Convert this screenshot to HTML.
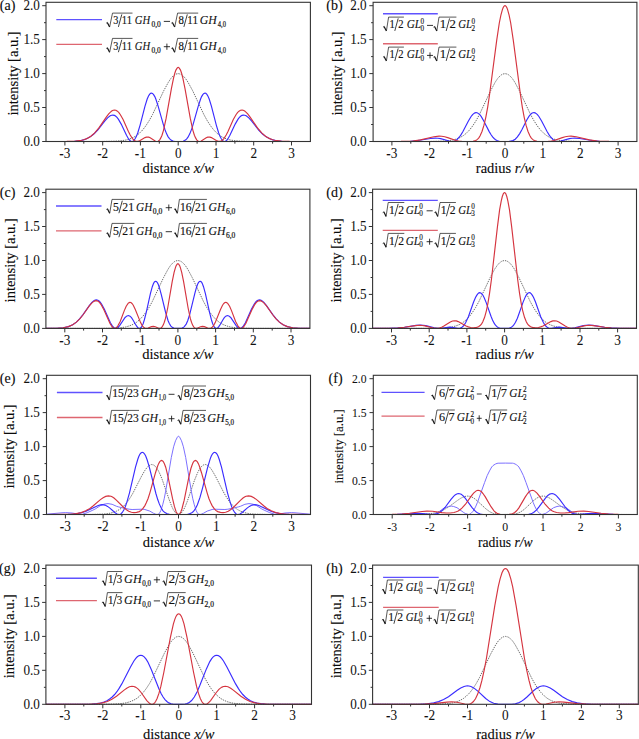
<!DOCTYPE html>
<html><head><meta charset="utf-8"><style>
html,body{margin:0;padding:0;background:#fff;}
svg{display:block;}
.t{font-family:"Liberation Serif",serif;font-size:14px;fill:#0a0a0a;stroke:#0a0a0a;stroke-width:0.12px;}
.tl{font-family:"Liberation Serif",serif;font-size:14px;fill:#111;stroke:#111;stroke-width:0.05px;}
.ln{font-family:"Liberation Serif",serif;font-size:12.5px;fill:#111;stroke:#111;stroke-width:0.15px;}
.li{font-family:"Liberation Serif",serif;font-size:12px;font-style:italic;fill:#111;stroke:#111;stroke-width:0.1px;}
.ls{font-family:"Liberation Serif",serif;font-size:7.2px;fill:#111;stroke:#111;stroke-width:0.12px;}
.lo{font-family:"Liberation Serif",serif;font-size:12px;fill:#111;stroke:#111;stroke-width:0.15px;}
.lsb{font-family:"Liberation Serif",serif;font-size:7.6px;fill:#111;stroke:#111;stroke-width:0.2px;}
</style></head><body>
<svg width="639" height="739" viewBox="0 0 639 739">
<rect width="639" height="739" fill="#fff"/>
<path d="M46.0,141.5 101.5,141.5 115.1,141.2 120.8,140.8 125.7,140.1 129.9,138.9 133.3,137.5 136.7,135.5 139.7,133.0 142.7,129.9 145.7,126.0 149.1,120.8 152.5,114.6 163.8,90.6 168.4,82.2 171.0,78.3 173.3,75.9 174.8,74.7 175.9,74.1 178.2,73.6 180.5,74.1 181.6,74.7 183.1,75.9 185.4,78.3 188.0,82.2 192.6,90.6 203.9,114.6 207.3,120.8 210.7,126.0 213.7,129.9 216.7,133.0 219.7,135.5 223.1,137.5 226.5,138.9 230.7,140.1 235.6,140.8 241.3,141.2 254.9,141.5 310.4,141.5" stroke="#6c6c6c" stroke-width="1" stroke-dasharray="1.4 1.0" fill="none"/>
<path d="M46.0,141.5 65.6,141.5 74.3,141.2 80.7,140.5 83.4,139.9 86.0,139.0 89.8,137.1 93.6,134.3 97.7,130.0 104.9,120.9 107.6,117.9 110.2,115.8 111.7,115.2 112.9,115.1 114.4,115.4 115.5,116.0 117.0,117.4 118.5,119.4 121.2,124.1 126.5,135.3 128.7,139.2 129.9,140.5 131.0,141.3 132.1,141.5 132.9,141.3 134.0,140.4 135.1,138.8 136.3,136.6 137.8,132.7 140.1,125.1 145.0,106.2 147.2,99.0 148.4,96.3 149.5,94.4 150.6,93.3 151.4,93.1 152.5,93.4 153.6,94.6 154.8,96.6 155.9,99.3 158.2,106.3 163.5,125.2 165.0,129.8 166.5,133.6 168.0,136.6 169.5,138.7 171.0,140.1 172.9,141.1 174.4,141.4 176.7,141.5 180.8,141.5 183.1,141.2 184.6,140.6 185.8,139.8 186.9,138.7 188.0,137.2 189.9,133.6 192.2,127.6 198.2,106.3 200.5,99.3 201.6,96.6 202.8,94.6 203.9,93.4 205.0,93.1 205.8,93.3 206.9,94.4 208.0,96.3 209.2,99.0 211.4,106.2 216.3,125.1 218.6,132.7 220.1,136.6 221.3,138.8 222.4,140.4 223.5,141.3 224.3,141.5 225.4,141.3 226.5,140.5 227.7,139.2 229.9,135.3 235.2,124.1 237.9,119.4 239.4,117.4 240.9,116.0 242.0,115.4 243.5,115.1 244.7,115.2 246.2,115.8 248.8,117.9 251.5,120.9 258.7,130.0 262.8,134.3 266.6,137.1 270.4,139.0 273.0,139.9 275.7,140.5 282.1,141.2 290.8,141.5 310.4,141.5" stroke="#3a2cff" stroke-width="1.15" fill="none"/>
<path d="M46.0,141.5 66.8,141.4 75.5,141.1 81.9,140.2 84.5,139.5 87.2,138.4 90.9,136.2 94.7,132.9 98.9,127.9 106.1,117.4 108.7,113.9 110.2,112.3 111.7,111.1 113.2,110.3 114.4,110.1 115.9,110.3 117.4,111.2 118.9,112.6 120.4,114.7 123.1,119.5 128.3,131.2 130.2,135.0 132.5,138.6 134.4,140.5 136.3,141.4 138.2,141.4 140.1,140.6 145.0,137.6 146.5,137.1 147.6,137.0 148.7,137.1 150.2,137.7 155.5,141.2 157.0,141.5 158.2,141.2 159.7,139.8 160.8,137.9 162.0,135.2 163.5,130.3 166.1,118.4 171.4,88.6 173.7,77.5 174.8,73.2 175.9,70.1 177.1,68.1 177.8,67.5 178.2,67.4 178.6,67.5 179.3,68.1 180.5,70.1 181.6,73.2 182.7,77.5 185.0,88.6 190.3,118.4 192.9,130.3 194.4,135.2 195.6,137.9 196.7,139.8 198.2,141.2 199.4,141.5 200.9,141.2 206.2,137.7 207.7,137.1 208.8,137.0 209.9,137.1 211.4,137.6 216.3,140.6 218.2,141.4 220.1,141.4 222.0,140.5 223.9,138.6 226.2,135.0 228.1,131.2 233.3,119.5 236.0,114.7 237.5,112.6 239.0,111.2 240.5,110.3 242.0,110.1 243.2,110.3 244.7,111.1 246.2,112.3 247.7,113.9 250.3,117.4 257.5,127.9 261.7,132.9 265.5,136.2 269.2,138.4 271.9,139.5 274.5,140.2 280.9,141.1 289.6,141.4 310.4,141.5" stroke="#d5343f" stroke-width="1.15" fill="none"/>
<text transform="translate(39.9,146.0) scale(0.94,1)" class="tl" style="font-size:14px" text-anchor="end">0.0</text>
<text transform="translate(39.9,112.0) scale(0.94,1)" class="tl" style="font-size:14px" text-anchor="end">0.5</text>
<text transform="translate(39.9,78.1) scale(0.94,1)" class="tl" style="font-size:14px" text-anchor="end">1.0</text>
<text transform="translate(39.9,44.1) scale(0.94,1)" class="tl" style="font-size:14px" text-anchor="end">1.5</text>
<text transform="translate(39.9,10.2) scale(0.94,1)" class="tl" style="font-size:14px" text-anchor="end">2.0</text>
<text transform="translate(64.9,157.6) scale(0.95,1)" class="tl" style="font-size:14px" text-anchor="middle">-3</text>
<text transform="translate(102.7,157.6) scale(0.95,1)" class="tl" style="font-size:14px" text-anchor="middle">-2</text>
<text transform="translate(140.4,157.6) scale(0.95,1)" class="tl" style="font-size:14px" text-anchor="middle">-1</text>
<text transform="translate(178.2,157.6) scale(0.95,1)" class="tl" style="font-size:14px" text-anchor="middle">0</text>
<text transform="translate(216.0,157.6) scale(0.95,1)" class="tl" style="font-size:14px" text-anchor="middle">1</text>
<text transform="translate(253.7,157.6) scale(0.95,1)" class="tl" style="font-size:14px" text-anchor="middle">2</text>
<text transform="translate(291.5,157.6) scale(0.95,1)" class="tl" style="font-size:14px" text-anchor="middle">3</text>
<path d="M42.2,141.5H46.0M42.2,107.5H46.0M42.2,73.6H46.0M42.2,39.6H46.0M42.2,5.7H46.0M44.0,124.5H46.0M44.0,90.6H46.0M44.0,56.6H46.0M44.0,22.7H46.0M64.9,141.5V145.5M102.7,141.5V145.5M140.4,141.5V145.5M178.2,141.5V145.5M216.0,141.5V145.5M253.7,141.5V145.5M291.5,141.5V145.5M83.8,141.5V143.7M121.5,141.5V143.7M159.3,141.5V143.7M197.1,141.5V143.7M234.9,141.5V143.7M272.6,141.5V143.7" stroke="#333" stroke-width="1" fill="none"/>
<rect x="46.0" y="2.3" width="264.4" height="139.2" stroke="#333" stroke-width="1.1" fill="none"/>
<text x="15.3" y="10.2" class="t" text-anchor="end">(a)</text>
<text transform="translate(17.8,73.4) rotate(-90)" class="t" style="font-size:14.5px" text-anchor="middle">intensity [a.u.]</text>
<text x="178.2" y="172.6" class="t" style="font-size:14.5px" text-anchor="middle">distance <tspan font-style="italic">x/w</tspan></text>
<path d="M373.1,141.5 428.5,141.5 442.1,141.2 447.7,140.8 452.6,140.1 456.8,138.9 460.2,137.5 463.5,135.5 466.6,133.0 469.6,129.9 472.6,126.0 476.0,120.8 479.4,114.6 490.7,90.6 495.2,82.2 497.8,78.3 500.1,75.9 501.6,74.7 502.7,74.1 505.0,73.6 507.3,74.1 508.4,74.7 509.9,75.9 512.2,78.3 514.8,82.2 519.3,90.6 530.6,114.6 534.0,120.8 537.4,126.0 540.4,129.9 543.4,133.0 546.5,135.5 549.8,137.5 553.2,138.9 557.4,140.1 562.3,140.8 567.9,141.2 581.5,141.5 636.9,141.5" stroke="#6c6c6c" stroke-width="1" stroke-dasharray="1.4 1.0" fill="none"/>
<path d="M373.1,141.5 399.5,141.5 410.4,141.2 417.9,140.5 430.4,138.5 435.3,138.1 437.9,138.2 440.6,138.6 450.0,141.3 451.9,141.5 453.7,141.2 455.3,140.7 456.8,139.7 459.4,137.0 460.9,134.9 462.8,131.8 468.4,121.0 471.1,116.5 472.6,114.6 473.7,113.6 474.9,112.9 476.0,112.6 477.1,112.8 478.6,113.6 479.8,114.7 481.3,116.6 483.5,120.5 489.2,131.6 491.1,134.8 492.6,136.9 494.1,138.5 495.6,139.7 497.5,140.7 499.3,141.2 502.7,141.5 509.9,141.4 512.9,140.6 515.2,139.2 517.4,136.9 519.7,133.6 522.0,129.5 526.9,119.8 529.1,116.1 530.6,114.3 531.8,113.3 532.9,112.8 534.0,112.6 535.1,112.9 536.3,113.6 537.4,114.6 538.9,116.5 541.6,121.0 547.2,131.8 549.1,134.9 550.6,137.0 553.2,139.7 554.7,140.7 556.3,141.2 558.1,141.5 560.0,141.3 569.4,138.6 572.1,138.2 574.7,138.1 579.6,138.5 592.1,140.5 599.6,141.2 610.5,141.5 636.9,141.5" stroke="#3a2cff" stroke-width="1.15" fill="none"/>
<path d="M373.1,141.5 401.0,141.4 412.7,141.0 420.6,139.9 433.8,136.8 439.1,136.1 441.7,136.2 444.7,136.7 447.7,137.6 456.0,140.5 458.6,141.0 461.7,141.4 469.6,141.5 473.0,141.3 475.6,140.6 476.7,139.9 477.9,138.9 479.0,137.6 480.1,135.7 482.0,131.5 483.9,125.4 485.8,117.3 487.7,107.1 489.5,95.0 496.7,40.4 499.3,23.0 500.9,15.2 502.4,9.6 503.1,7.7 503.9,6.4 504.6,5.8 505.0,5.7 505.4,5.8 506.1,6.4 506.9,7.7 507.6,9.6 509.1,15.2 510.7,23.0 513.3,40.4 520.5,95.0 522.3,107.1 524.2,117.3 526.1,125.4 528.0,131.5 529.9,135.7 531.0,137.6 532.1,138.9 533.3,139.9 534.4,140.6 537.0,141.3 540.4,141.5 548.3,141.4 551.4,141.0 554.0,140.5 562.3,137.6 565.3,136.7 568.3,136.2 571.0,136.1 576.2,136.8 589.4,139.9 597.3,141.0 609.0,141.4 636.9,141.5" stroke="#d5343f" stroke-width="1.15" fill="none"/>
<text transform="translate(366.6,146.0) scale(0.94,1)" class="tl" style="font-size:14px" text-anchor="end">0.0</text>
<text transform="translate(366.6,112.0) scale(0.94,1)" class="tl" style="font-size:14px" text-anchor="end">0.5</text>
<text transform="translate(366.6,78.1) scale(0.94,1)" class="tl" style="font-size:14px" text-anchor="end">1.0</text>
<text transform="translate(366.6,44.1) scale(0.94,1)" class="tl" style="font-size:14px" text-anchor="end">1.5</text>
<text transform="translate(366.6,10.2) scale(0.94,1)" class="tl" style="font-size:14px" text-anchor="end">2.0</text>
<text transform="translate(391.9,157.6) scale(0.95,1)" class="tl" style="font-size:14px" text-anchor="middle">-3</text>
<text transform="translate(429.6,157.6) scale(0.95,1)" class="tl" style="font-size:14px" text-anchor="middle">-2</text>
<text transform="translate(467.3,157.6) scale(0.95,1)" class="tl" style="font-size:14px" text-anchor="middle">-1</text>
<text transform="translate(505.0,157.6) scale(0.95,1)" class="tl" style="font-size:14px" text-anchor="middle">0</text>
<text transform="translate(542.7,157.6) scale(0.95,1)" class="tl" style="font-size:14px" text-anchor="middle">1</text>
<text transform="translate(580.4,157.6) scale(0.95,1)" class="tl" style="font-size:14px" text-anchor="middle">2</text>
<text transform="translate(618.1,157.6) scale(0.95,1)" class="tl" style="font-size:14px" text-anchor="middle">3</text>
<path d="M369.3,141.5H373.1M369.3,107.5H373.1M369.3,73.6H373.1M369.3,39.6H373.1M369.3,5.7H373.1M371.1,124.5H373.1M371.1,90.6H373.1M371.1,56.6H373.1M371.1,22.7H373.1M391.9,141.5V145.5M429.6,141.5V145.5M467.3,141.5V145.5M505.0,141.5V145.5M542.7,141.5V145.5M580.4,141.5V145.5M618.1,141.5V145.5M410.8,141.5V143.7M448.5,141.5V143.7M486.2,141.5V143.7M523.8,141.5V143.7M561.5,141.5V143.7M599.2,141.5V143.7" stroke="#333" stroke-width="1" fill="none"/>
<rect x="373.1" y="2.3" width="263.8" height="139.2" stroke="#333" stroke-width="1.1" fill="none"/>
<text x="342.6" y="10.2" class="t" text-anchor="end">(b)</text>
<text transform="translate(341.8,73.4) rotate(-90)" class="t" style="font-size:14.5px" text-anchor="middle">intensity [a.u.]</text>
<text x="505.0" y="172.6" class="t" style="font-size:14.5px" text-anchor="middle">radius <tspan font-style="italic">r/w</tspan></text>
<path d="M45.9,328.4 101.3,328.4 114.9,328.1 120.6,327.7 125.5,327.0 129.6,325.8 133.0,324.4 136.4,322.4 139.4,319.9 142.4,316.8 145.5,312.9 148.9,307.7 152.3,301.5 163.6,277.5 168.1,269.1 170.7,265.2 173.0,262.8 174.5,261.6 175.6,261.0 177.9,260.5 180.2,261.0 181.3,261.6 182.8,262.8 185.1,265.2 187.7,269.1 192.2,277.5 203.5,301.5 206.9,307.7 210.3,312.9 213.4,316.8 216.4,319.9 219.4,322.4 222.8,324.4 226.2,325.8 230.3,327.0 235.2,327.7 240.9,328.1 254.5,328.4 309.9,328.4" stroke="#6c6c6c" stroke-width="1" stroke-dasharray="1.4 1.0" fill="none"/>
<path d="M45.9,328.4 56.8,328.2 63.2,327.7 68.5,326.6 72.7,324.8 76.4,322.1 79.8,318.7 83.2,314.4 89.3,305.6 91.9,302.4 94.2,300.6 95.3,300.1 96.4,299.9 97.9,300.3 99.1,301.0 100.2,302.1 101.7,304.2 104.4,309.2 110.4,322.8 112.3,325.9 114.2,327.9 115.3,328.4 116.0,328.4 116.8,328.2 117.9,327.5 119.8,325.4 125.1,317.5 127.0,315.9 128.5,315.5 130.0,316.2 131.5,317.7 133.0,320.0 136.0,325.2 137.5,327.3 138.3,328.0 139.1,328.3 140.2,328.2 141.3,327.3 142.1,326.1 143.2,323.5 144.3,320.0 146.2,312.6 150.4,293.7 152.3,286.7 153.4,283.7 154.1,282.4 154.9,281.6 155.6,281.3 156.4,281.5 157.5,282.9 158.3,284.5 159.4,287.7 161.3,294.6 165.5,312.0 168.1,320.7 169.2,323.3 170.7,325.8 172.2,327.3 173.8,328.1 175.3,328.3 177.9,328.4 180.5,328.3 182.0,328.1 183.2,327.6 184.3,326.7 186.2,324.1 187.7,320.7 189.6,314.8 194.9,293.1 196.4,287.7 197.5,284.5 198.3,282.9 199.4,281.5 200.2,281.3 200.9,281.6 201.7,282.4 202.4,283.7 203.5,286.7 205.4,293.7 209.6,312.6 211.5,320.0 212.6,323.5 213.7,326.1 214.5,327.3 215.6,328.2 216.7,328.3 217.5,328.0 218.3,327.3 219.8,325.2 222.8,320.0 224.3,317.7 225.8,316.2 227.3,315.5 228.8,315.9 230.7,317.5 236.0,325.4 237.9,327.5 239.0,328.2 239.8,328.4 240.5,328.4 241.6,327.9 243.5,325.9 245.4,322.8 251.4,309.2 254.1,304.2 255.6,302.1 256.7,301.0 257.9,300.3 259.4,299.9 260.5,300.1 261.6,300.6 263.9,302.4 266.5,305.6 272.6,314.4 276.0,318.7 279.4,322.1 283.1,324.8 287.3,326.6 292.6,327.7 299.0,328.2 309.9,328.4" stroke="#3a2cff" stroke-width="1.15" fill="none"/>
<path d="M45.9,328.4 56.8,328.2 63.2,327.7 68.5,326.6 72.7,324.8 76.4,322.1 79.8,318.8 82.9,315.0 89.3,305.9 91.5,303.3 93.8,301.4 94.9,300.9 96.1,300.7 97.6,301.0 98.7,301.7 99.8,302.8 101.3,304.9 104.0,309.9 110.0,323.5 111.9,326.5 113.0,327.7 113.8,328.2 114.9,328.4 115.7,328.2 116.8,327.3 117.9,325.8 120.2,321.4 124.3,310.6 126.2,306.3 128.1,303.4 129.2,302.6 130.0,302.4 130.8,302.5 131.5,303.0 132.3,303.8 133.4,305.5 135.3,309.5 140.6,322.6 142.4,325.9 144.0,327.6 145.1,328.2 146.6,328.4 148.1,328.0 151.5,326.6 153.4,326.4 155.3,326.8 158.7,328.3 159.8,328.4 160.6,328.2 161.3,327.7 162.1,326.9 163.2,325.1 164.3,322.2 165.5,318.4 167.7,308.0 172.2,281.7 174.1,272.3 175.3,268.1 176.0,266.0 177.1,264.1 177.9,263.7 178.7,264.1 179.8,266.0 180.5,268.1 181.7,272.3 183.6,281.7 188.1,308.0 190.3,318.4 191.5,322.2 192.6,325.1 193.7,326.9 194.5,327.7 195.2,328.2 196.0,328.4 197.1,328.3 200.5,326.8 202.4,326.4 204.3,326.6 207.7,328.0 209.2,328.4 210.7,328.2 211.8,327.6 213.4,325.9 215.2,322.6 220.5,309.5 222.4,305.5 223.5,303.8 224.3,303.0 225.0,302.5 225.8,302.4 226.6,302.6 227.7,303.4 229.6,306.3 231.5,310.6 235.6,321.4 237.9,325.8 239.0,327.3 240.1,328.2 240.9,328.4 242.0,328.2 242.8,327.7 243.9,326.5 245.8,323.5 251.8,309.9 254.5,304.9 256.0,302.8 257.1,301.7 258.2,301.0 259.7,300.7 260.9,300.9 262.0,301.4 264.3,303.3 266.5,305.9 272.9,315.0 276.0,318.8 279.4,322.1 283.1,324.8 287.3,326.6 292.6,327.7 299.0,328.2 309.9,328.4" stroke="#d5343f" stroke-width="1.15" fill="none"/>
<text transform="translate(39.9,332.9) scale(0.94,1)" class="tl" style="font-size:14px" text-anchor="end">0.0</text>
<text transform="translate(39.9,298.9) scale(0.94,1)" class="tl" style="font-size:14px" text-anchor="end">0.5</text>
<text transform="translate(39.9,265.0) scale(0.94,1)" class="tl" style="font-size:14px" text-anchor="end">1.0</text>
<text transform="translate(39.9,231.0) scale(0.94,1)" class="tl" style="font-size:14px" text-anchor="end">1.5</text>
<text transform="translate(39.9,197.1) scale(0.94,1)" class="tl" style="font-size:14px" text-anchor="end">2.0</text>
<text transform="translate(64.8,344.5) scale(0.95,1)" class="tl" style="font-size:14px" text-anchor="middle">-3</text>
<text transform="translate(102.5,344.5) scale(0.95,1)" class="tl" style="font-size:14px" text-anchor="middle">-2</text>
<text transform="translate(140.2,344.5) scale(0.95,1)" class="tl" style="font-size:14px" text-anchor="middle">-1</text>
<text transform="translate(177.9,344.5) scale(0.95,1)" class="tl" style="font-size:14px" text-anchor="middle">0</text>
<text transform="translate(215.6,344.5) scale(0.95,1)" class="tl" style="font-size:14px" text-anchor="middle">1</text>
<text transform="translate(253.3,344.5) scale(0.95,1)" class="tl" style="font-size:14px" text-anchor="middle">2</text>
<text transform="translate(291.0,344.5) scale(0.95,1)" class="tl" style="font-size:14px" text-anchor="middle">3</text>
<path d="M42.1,328.4H45.9M42.1,294.4H45.9M42.1,260.5H45.9M42.1,226.5H45.9M42.1,192.6H45.9M43.9,311.4H45.9M43.9,277.5H45.9M43.9,243.5H45.9M43.9,209.6H45.9M64.8,328.4V332.4M102.5,328.4V332.4M140.2,328.4V332.4M177.9,328.4V332.4M215.6,328.4V332.4M253.3,328.4V332.4M291.0,328.4V332.4M83.6,328.4V330.6M121.3,328.4V330.6M159.0,328.4V330.6M196.8,328.4V330.6M234.5,328.4V330.6M272.2,328.4V330.6" stroke="#333" stroke-width="1" fill="none"/>
<rect x="45.9" y="189.2" width="264.0" height="139.2" stroke="#333" stroke-width="1.1" fill="none"/>
<text x="15.3" y="197.1" class="t" text-anchor="end">(c)</text>
<text transform="translate(14.5,260.3) rotate(-90)" class="t" style="font-size:14.5px" text-anchor="middle">intensity [a.u.]</text>
<text x="177.9" y="358.8" class="t" style="font-size:14.5px" text-anchor="middle">distance <tspan font-style="italic">x/w</tspan></text>
<path d="M372.6,328.4 428.0,328.4 441.6,328.1 447.2,327.7 452.1,327.0 456.3,325.8 459.7,324.4 463.1,322.4 466.1,319.9 469.1,316.8 472.1,312.9 475.5,307.7 478.9,301.5 490.2,277.5 494.7,269.1 497.4,265.2 499.6,262.8 501.2,261.6 502.3,261.0 504.6,260.5 506.8,261.0 507.9,261.6 509.5,262.8 511.7,265.2 514.4,269.1 518.9,277.5 530.2,301.5 533.6,307.7 537.0,312.9 540.0,316.8 543.0,319.9 546.0,322.4 549.4,324.4 552.8,325.8 557.0,327.0 561.9,327.7 567.5,328.1 581.1,328.4 636.5,328.4" stroke="#6c6c6c" stroke-width="1" stroke-dasharray="1.4 1.0" fill="none"/>
<path d="M372.6,328.4 388.8,328.3 397.9,327.9 404.6,327.2 416.0,325.4 420.5,325.0 423.1,325.2 425.8,325.6 434.4,327.8 437.8,328.3 441.2,328.3 449.5,327.2 452.1,327.4 457.8,328.4 459.3,328.3 460.4,328.1 461.9,327.3 463.1,326.3 464.6,324.4 465.7,322.5 468.4,316.7 473.6,302.0 475.5,297.5 476.7,295.4 477.8,293.8 478.9,292.9 479.7,292.7 480.8,293.0 481.9,293.9 483.1,295.5 484.2,297.7 486.1,302.4 491.0,316.3 492.5,319.9 494.0,322.9 495.1,324.7 496.6,326.4 498.1,327.5 500.0,328.2 504.6,328.4 509.1,328.2 511.3,327.3 512.5,326.4 513.6,325.2 515.5,322.3 517.4,318.2 523.0,302.4 525.3,296.9 526.4,294.9 527.5,293.5 528.7,292.8 529.4,292.7 530.2,292.9 531.3,293.8 532.4,295.4 533.6,297.5 535.5,302.0 540.7,316.7 543.4,322.5 544.5,324.4 546.0,326.3 547.2,327.3 548.7,328.1 549.8,328.3 551.3,328.4 557.0,327.4 559.6,327.2 567.9,328.3 571.3,328.3 574.7,327.8 583.3,325.6 586.0,325.2 588.6,325.0 593.1,325.4 604.5,327.2 611.2,327.9 620.3,328.3 636.5,328.4" stroke="#3a2cff" stroke-width="1.15" fill="none"/>
<path d="M372.6,328.4 388.4,328.3 397.5,328.0 404.3,327.3 415.6,325.6 419.7,325.3 422.4,325.5 425.0,325.9 434.1,328.2 437.4,328.4 439.3,328.0 441.6,327.2 443.9,326.0 450.3,321.9 452.5,321.0 454.4,320.8 456.3,320.9 458.2,321.6 466.1,326.0 468.4,326.9 470.6,327.5 473.6,327.7 476.7,327.4 478.5,326.7 480.4,325.3 481.6,323.9 482.7,322.0 484.6,317.3 486.5,310.3 488.0,302.8 489.5,293.6 491.4,279.8 497.4,227.1 499.6,209.9 501.2,201.1 502.3,196.5 503.4,193.6 504.2,192.7 504.6,192.6 504.9,192.7 505.7,193.6 506.8,196.5 507.9,201.1 509.5,209.9 511.7,227.1 517.7,279.8 519.6,293.6 521.1,302.8 522.6,310.3 524.5,317.3 526.4,322.0 527.5,323.9 528.7,325.3 530.6,326.7 532.4,327.4 535.5,327.7 538.5,327.5 540.7,326.9 543.0,326.0 550.9,321.6 552.8,320.9 554.7,320.8 556.6,321.0 558.8,321.9 565.2,326.0 567.5,327.2 569.8,328.0 571.7,328.4 575.0,328.2 584.1,325.9 586.7,325.5 589.4,325.3 593.5,325.6 604.8,327.3 611.6,328.0 620.7,328.3 636.5,328.4" stroke="#d5343f" stroke-width="1.15" fill="none"/>
<text transform="translate(366.6,332.9) scale(0.94,1)" class="tl" style="font-size:14px" text-anchor="end">0.0</text>
<text transform="translate(366.6,298.9) scale(0.94,1)" class="tl" style="font-size:14px" text-anchor="end">0.5</text>
<text transform="translate(366.6,265.0) scale(0.94,1)" class="tl" style="font-size:14px" text-anchor="end">1.0</text>
<text transform="translate(366.6,231.0) scale(0.94,1)" class="tl" style="font-size:14px" text-anchor="end">1.5</text>
<text transform="translate(366.6,197.1) scale(0.94,1)" class="tl" style="font-size:14px" text-anchor="end">2.0</text>
<text transform="translate(391.5,344.5) scale(0.95,1)" class="tl" style="font-size:14px" text-anchor="middle">-3</text>
<text transform="translate(429.2,344.5) scale(0.95,1)" class="tl" style="font-size:14px" text-anchor="middle">-2</text>
<text transform="translate(466.9,344.5) scale(0.95,1)" class="tl" style="font-size:14px" text-anchor="middle">-1</text>
<text transform="translate(504.6,344.5) scale(0.95,1)" class="tl" style="font-size:14px" text-anchor="middle">0</text>
<text transform="translate(542.2,344.5) scale(0.95,1)" class="tl" style="font-size:14px" text-anchor="middle">1</text>
<text transform="translate(580.0,344.5) scale(0.95,1)" class="tl" style="font-size:14px" text-anchor="middle">2</text>
<text transform="translate(617.6,344.5) scale(0.95,1)" class="tl" style="font-size:14px" text-anchor="middle">3</text>
<path d="M368.8,328.4H372.6M368.8,294.4H372.6M368.8,260.5H372.6M368.8,226.5H372.6M368.8,192.6H372.6M370.6,311.4H372.6M370.6,277.5H372.6M370.6,243.5H372.6M370.6,209.6H372.6M391.5,328.4V332.4M429.2,328.4V332.4M466.9,328.4V332.4M504.6,328.4V332.4M542.2,328.4V332.4M580.0,328.4V332.4M617.6,328.4V332.4M410.3,328.4V330.6M448.0,328.4V330.6M485.7,328.4V330.6M523.4,328.4V330.6M561.1,328.4V330.6M598.8,328.4V330.6" stroke="#333" stroke-width="1" fill="none"/>
<rect x="372.6" y="189.2" width="263.9" height="139.2" stroke="#333" stroke-width="1.1" fill="none"/>
<text x="342.6" y="197.1" class="t" text-anchor="end">(d)</text>
<text transform="translate(341.0,260.3) rotate(-90)" class="t" style="font-size:14.5px" text-anchor="middle">intensity [a.u.]</text>
<text x="504.6" y="358.8" class="t" style="font-size:14.5px" text-anchor="middle">radius <tspan font-style="italic">r/w</tspan></text>
<path d="M46.5,514.5 89.1,514.5 101.2,514.2 106.1,513.9 110.2,513.2 113.6,512.3 116.6,511.1 119.7,509.4 122.3,507.4 124.9,504.8 127.6,501.6 130.2,497.7 132.9,493.2 141.5,476.3 144.9,470.4 146.8,467.8 148.3,466.2 150.2,464.9 151.7,464.5 153.6,465.0 155.1,466.1 156.6,467.9 158.5,471.0 160.4,475.0 162.3,479.8 169.1,499.5 171.7,506.3 173.2,509.4 174.7,511.8 176.2,513.5 177.7,514.4 179.3,514.4 180.8,513.5 182.3,511.8 183.8,509.4 185.3,506.3 187.2,501.6 194.3,480.8 197.7,472.5 199.6,469.0 201.5,466.5 203.4,465.0 205.3,464.5 206.8,464.9 208.7,466.2 210.2,467.8 212.1,470.4 215.5,476.3 224.1,493.2 226.8,497.7 229.4,501.6 232.1,504.8 234.7,507.4 237.3,509.4 240.4,511.1 243.4,512.3 246.8,513.2 250.9,513.9 255.8,514.2 267.9,514.5 310.5,514.5" stroke="#6c6c6c" stroke-width="1" stroke-dasharray="1.4 1.0" fill="none"/>
<path d="M46.5,514.2 62.0,512.8 65.7,512.6 72.1,513.0 79.7,514.4 82.0,514.4 87.2,512.7 92.1,510.5 95.2,509.0 100.1,505.8 102.3,504.7 105.3,503.9 108.0,503.6 112.1,504.3 116.3,506.2 118.2,506.8 122.3,507.8 129.1,509.2 132.1,509.5 142.7,509.2 144.9,509.5 149.8,511.1 153.6,513.3 155.9,514.3 157.0,514.5 158.5,514.2 159.6,512.9 160.8,510.7 162.7,504.8 164.2,498.8 165.7,491.1 171.3,457.5 173.6,446.8 175.5,440.8 177.4,437.1 178.1,436.3 178.5,436.2 178.9,436.3 179.6,437.1 181.5,440.8 183.4,446.8 185.7,457.5 191.3,491.1 192.8,498.8 194.3,504.8 196.2,510.7 197.4,512.9 198.5,514.2 200.0,514.5 201.1,514.3 203.4,513.3 207.2,511.1 212.1,509.5 214.3,509.2 224.9,509.5 227.9,509.2 234.7,507.8 238.8,506.8 240.7,506.2 244.9,504.3 249.0,503.6 251.7,503.9 254.7,504.7 256.9,505.8 261.8,509.0 264.9,510.5 269.8,512.7 275.0,514.4 277.3,514.4 284.9,513.0 291.3,512.6 295.0,512.8 310.5,514.2" stroke="#7c70ff" stroke-width="1" fill="none"/>
<path d="M46.5,514.5 68.0,514.3 73.7,514.0 78.2,513.4 82.3,512.5 86.1,511.2 98.2,505.5 100.4,504.9 102.3,504.7 105.0,505.1 107.6,506.4 109.9,508.1 114.8,512.5 117.0,514.0 118.9,514.5 120.0,514.3 120.8,513.9 122.3,512.5 123.8,510.1 125.3,506.7 126.8,502.4 129.5,492.8 135.5,467.1 137.8,459.3 138.9,456.3 140.0,454.1 141.2,452.8 142.3,452.3 143.4,452.7 144.6,454.0 145.7,456.1 147.2,460.0 149.5,467.8 155.9,493.5 157.8,499.8 159.3,503.9 161.2,508.0 163.0,510.8 164.9,512.6 167.2,513.8 169.4,514.3 172.1,514.5 183.8,514.5 187.6,514.3 189.4,513.9 191.3,513.1 192.8,512.0 194.3,510.3 195.8,508.0 197.4,504.8 200.0,497.4 202.6,487.8 207.5,467.8 210.2,458.9 211.3,456.1 212.4,454.0 213.6,452.7 214.7,452.3 215.8,452.8 217.0,454.1 218.1,456.3 219.2,459.3 221.5,467.1 227.5,492.8 230.2,502.4 231.7,506.7 233.2,510.1 234.7,512.5 236.2,513.9 237.0,514.3 238.1,514.5 240.0,514.0 242.2,512.5 247.1,508.1 249.4,506.4 252.0,505.1 254.7,504.7 256.6,504.9 258.8,505.5 270.9,511.2 274.7,512.5 278.8,513.4 283.3,514.0 289.0,514.3 310.5,514.5" stroke="#3a2cff" stroke-width="1.15" fill="none"/>
<path d="M46.5,514.5 62.3,514.4 70.3,514.2 76.3,513.6 81.2,512.6 85.7,510.8 89.9,508.4 93.3,505.8 100.4,499.6 103.1,497.7 105.7,496.4 108.4,495.9 111.0,496.3 112.5,497.0 114.0,498.0 116.6,500.3 124.2,508.0 126.5,509.8 128.7,511.2 131.4,512.2 134.0,512.6 136.6,512.4 139.3,511.6 141.2,510.4 143.0,508.4 144.9,505.6 146.4,502.5 148.0,498.7 149.8,493.1 155.5,472.7 157.4,466.8 158.5,463.9 159.6,461.9 160.8,460.7 161.5,460.4 162.7,460.9 163.4,461.8 164.5,464.0 165.7,467.2 167.9,476.1 172.5,498.4 174.4,506.4 176.2,512.0 177.4,513.9 178.1,514.4 178.9,514.4 180.0,513.4 180.8,512.0 181.9,509.0 184.2,500.2 188.7,477.9 190.9,468.5 192.1,465.0 193.2,462.4 194.3,460.9 195.5,460.4 196.2,460.7 197.4,461.9 198.5,463.9 199.6,466.8 201.5,472.7 207.2,493.1 209.0,498.7 210.6,502.5 212.1,505.6 214.0,508.4 215.8,510.4 217.7,511.6 220.4,512.4 223.0,512.6 225.6,512.2 228.3,511.2 230.5,509.8 232.8,508.0 240.4,500.3 243.0,498.0 244.5,497.0 246.0,496.3 248.6,495.9 251.3,496.4 253.9,497.7 256.6,499.6 263.7,505.8 267.1,508.4 271.3,510.8 275.8,512.6 280.7,513.6 286.7,514.2 294.7,514.4 310.5,514.5" stroke="#d5343f" stroke-width="1.15" fill="none"/>
<text transform="translate(39.9,519.0) scale(0.94,1)" class="tl" style="font-size:14px" text-anchor="end">0.0</text>
<text transform="translate(39.9,485.1) scale(0.94,1)" class="tl" style="font-size:14px" text-anchor="end">0.5</text>
<text transform="translate(39.9,451.1) scale(0.94,1)" class="tl" style="font-size:14px" text-anchor="end">1.0</text>
<text transform="translate(39.9,417.1) scale(0.94,1)" class="tl" style="font-size:14px" text-anchor="end">1.5</text>
<text transform="translate(39.9,383.2) scale(0.94,1)" class="tl" style="font-size:14px" text-anchor="end">2.0</text>
<text transform="translate(65.4,530.6) scale(0.95,1)" class="tl" style="font-size:14px" text-anchor="middle">-3</text>
<text transform="translate(103.1,530.6) scale(0.95,1)" class="tl" style="font-size:14px" text-anchor="middle">-2</text>
<text transform="translate(140.8,530.6) scale(0.95,1)" class="tl" style="font-size:14px" text-anchor="middle">-1</text>
<text transform="translate(178.5,530.6) scale(0.95,1)" class="tl" style="font-size:14px" text-anchor="middle">0</text>
<text transform="translate(216.2,530.6) scale(0.95,1)" class="tl" style="font-size:14px" text-anchor="middle">1</text>
<text transform="translate(253.9,530.6) scale(0.95,1)" class="tl" style="font-size:14px" text-anchor="middle">2</text>
<text transform="translate(291.6,530.6) scale(0.95,1)" class="tl" style="font-size:14px" text-anchor="middle">3</text>
<path d="M42.7,514.5H46.5M42.7,480.6H46.5M42.7,446.6H46.5M42.7,412.6H46.5M42.7,378.7H46.5M44.5,497.5H46.5M44.5,463.6H46.5M44.5,429.6H46.5M44.5,395.7H46.5M65.4,514.5V518.5M103.1,514.5V518.5M140.8,514.5V518.5M178.5,514.5V518.5M216.2,514.5V518.5M253.9,514.5V518.5M291.6,514.5V518.5M84.2,514.5V516.7M121.9,514.5V516.7M159.6,514.5V516.7M197.4,514.5V516.7M235.1,514.5V516.7M272.8,514.5V516.7" stroke="#333" stroke-width="1" fill="none"/>
<rect x="46.5" y="375.3" width="264.0" height="139.2" stroke="#333" stroke-width="1.1" fill="none"/>
<text x="15.3" y="383.2" class="t" text-anchor="end">(e)</text>
<text transform="translate(13.6,446.4) rotate(-90)" class="t" style="font-size:14.5px" text-anchor="middle">intensity [a.u.]</text>
<text x="178.5" y="546.8" class="t" style="font-size:14.5px" text-anchor="middle">distance <tspan font-style="italic">x/w</tspan></text>
<path d="M373.3,514.5 419.3,514.4 427.6,514.0 434.0,513.1 438.9,511.8 443.8,509.8 448.7,506.9 457.4,500.5 460.8,498.2 464.2,496.7 466.1,496.2 467.6,496.1 469.1,496.2 471.0,496.7 472.9,497.6 474.8,498.8 478.1,501.6 485.7,508.7 489.8,511.8 493.6,513.5 497.8,514.3 502.3,514.5 511.7,514.4 515.1,514.0 518.1,513.1 520.8,511.8 523.8,509.7 526.4,507.4 532.8,501.2 536.2,498.5 538.1,497.4 539.6,496.7 541.5,496.2 543.0,496.1 544.5,496.2 546.4,496.7 549.8,498.2 553.2,500.5 561.9,506.9 566.8,509.8 571.7,511.8 576.6,513.1 583.0,514.0 591.3,514.4 637.3,514.5" stroke="#6c6c6c" stroke-width="1" stroke-dasharray="1.4 1.0" fill="none"/>
<path d="M373.3,514.5 407.6,514.5 418.6,514.2 431.4,514.4 434.4,513.9 436.7,513.0 439.3,511.5 443.1,508.7 444.6,507.9 448.7,506.5 451.4,506.1 453.6,506.5 457.0,507.7 463.8,512.6 465.3,513.5 468.0,514.4 468.7,514.5 469.5,514.3 471.0,513.4 472.9,511.4 474.4,509.1 475.9,506.1 477.4,502.5 484.6,482.5 487.2,475.6 489.5,470.9 491.7,467.0 492.9,465.7 494.0,464.9 495.5,464.0 497.0,463.4 498.1,463.2 505.3,463.1 512.5,463.2 513.6,463.4 515.1,464.0 516.6,464.9 517.7,465.7 518.9,467.0 521.1,470.9 523.4,475.6 526.0,482.5 533.2,502.5 534.7,506.1 536.2,509.1 537.7,511.4 539.6,513.4 541.1,514.3 541.9,514.5 542.6,514.4 545.3,513.5 546.8,512.6 553.6,507.7 557.0,506.5 559.2,506.1 561.9,506.5 566.0,507.9 567.5,508.7 571.3,511.5 573.9,513.0 576.2,513.9 579.2,514.4 592.0,514.2 603.0,514.5 637.3,514.5" stroke="#7c70ff" stroke-width="1" fill="none"/>
<path d="M373.3,514.5 397.1,514.3 417.8,513.4 422.7,513.5 431.8,514.5 434.0,514.4 435.9,514.1 438.9,513.0 441.9,510.8 445.0,507.5 451.0,499.4 453.6,496.3 455.1,494.9 456.3,494.2 457.4,493.7 458.5,493.6 459.7,493.7 461.2,494.3 462.3,495.1 463.8,496.5 466.1,499.3 472.1,507.7 475.5,511.4 477.0,512.5 478.5,513.3 480.4,514.0 482.3,514.4 484.9,514.5 526.0,514.5 528.7,514.3 530.6,513.9 532.1,513.3 533.6,512.5 536.6,509.9 539.2,506.7 544.9,498.8 547.5,495.7 549.8,494.1 550.9,493.7 552.1,493.6 553.2,493.7 554.3,494.2 555.5,494.9 557.0,496.3 559.6,499.4 565.6,507.5 568.7,510.8 571.7,513.0 574.7,514.1 576.6,514.4 578.8,514.5 587.9,513.5 592.8,513.4 613.5,514.3 637.3,514.5" stroke="#3a2cff" stroke-width="1.15" fill="none"/>
<path d="M373.3,514.5 392.2,514.4 402.0,514.1 409.5,513.3 422.0,511.5 426.9,511.1 432.5,511.3 441.9,512.6 446.1,513.0 450.2,513.0 454.0,512.5 456.3,511.8 458.2,511.0 460.0,509.8 461.9,508.2 465.3,504.5 471.4,495.9 473.6,493.1 475.9,491.1 477.0,490.5 478.1,490.3 479.3,490.5 480.4,491.0 481.5,491.8 483.0,493.5 485.3,496.9 491.0,506.7 494.0,510.8 495.5,512.2 497.0,513.3 498.5,513.9 500.0,514.3 503.4,514.5 509.8,514.4 512.5,513.8 514.7,512.5 516.6,510.8 518.9,507.9 525.3,496.9 527.6,493.5 529.1,491.8 530.2,491.0 531.3,490.5 532.5,490.3 533.6,490.5 534.7,491.1 537.0,493.1 539.2,495.9 545.3,504.5 548.7,508.2 550.6,509.8 552.4,511.0 554.3,511.8 556.6,512.5 560.4,513.0 564.5,513.0 568.7,512.6 578.1,511.3 583.7,511.1 588.6,511.5 601.1,513.3 608.6,514.1 618.4,514.4 637.3,514.5" stroke="#d5343f" stroke-width="1.15" fill="none"/>
<text transform="translate(366.6,519.0) scale(0.94,1)" class="tl" style="font-size:12.4px" text-anchor="end">0.0</text>
<text transform="translate(366.6,485.1) scale(0.94,1)" class="tl" style="font-size:12.4px" text-anchor="end">0.5</text>
<text transform="translate(366.6,451.1) scale(0.94,1)" class="tl" style="font-size:12.4px" text-anchor="end">1.0</text>
<text transform="translate(366.6,417.1) scale(0.94,1)" class="tl" style="font-size:12.4px" text-anchor="end">1.5</text>
<text transform="translate(366.6,383.2) scale(0.94,1)" class="tl" style="font-size:12.4px" text-anchor="end">2.0</text>
<text transform="translate(392.2,530.6) scale(0.95,1)" class="tl" style="font-size:12.4px" text-anchor="middle">-3</text>
<text transform="translate(429.9,530.6) scale(0.95,1)" class="tl" style="font-size:12.4px" text-anchor="middle">-2</text>
<text transform="translate(467.6,530.6) scale(0.95,1)" class="tl" style="font-size:12.4px" text-anchor="middle">-1</text>
<text transform="translate(505.3,530.6) scale(0.95,1)" class="tl" style="font-size:12.4px" text-anchor="middle">0</text>
<text transform="translate(543.0,530.6) scale(0.95,1)" class="tl" style="font-size:12.4px" text-anchor="middle">1</text>
<text transform="translate(580.7,530.6) scale(0.95,1)" class="tl" style="font-size:12.4px" text-anchor="middle">2</text>
<text transform="translate(618.4,530.6) scale(0.95,1)" class="tl" style="font-size:12.4px" text-anchor="middle">3</text>
<path d="M369.5,514.5H373.3M369.5,480.6H373.3M369.5,446.6H373.3M369.5,412.6H373.3M369.5,378.7H373.3M371.3,497.5H373.3M371.3,463.6H373.3M371.3,429.6H373.3M371.3,395.7H373.3M392.2,514.5V518.5M429.9,514.5V518.5M467.6,514.5V518.5M505.3,514.5V518.5M543.0,514.5V518.5M580.7,514.5V518.5M618.4,514.5V518.5M411.0,514.5V516.7M448.7,514.5V516.7M486.4,514.5V516.7M524.2,514.5V516.7M561.9,514.5V516.7M599.6,514.5V516.7" stroke="#333" stroke-width="1" fill="none"/>
<rect x="373.3" y="375.3" width="264.0" height="139.2" stroke="#333" stroke-width="1.1" fill="none"/>
<text x="342.6" y="383.2" class="t" text-anchor="end">(f)</text>
<text transform="translate(343.4,446.4) rotate(-90)" class="t" style="font-size:12.8px" text-anchor="middle">intensity [a.u.]</text>
<text x="505.3" y="546.8" class="t" style="font-size:13.6px" text-anchor="middle">radius <tspan font-style="italic">r/w</tspan></text>
<path d="M45.9,704.3 101.7,704.3 115.3,704.0 121.0,703.6 126.0,702.9 130.1,701.7 133.5,700.3 137.0,698.3 140.0,695.8 143.0,692.7 146.1,688.8 149.5,683.6 152.9,677.4 164.3,653.4 168.8,645.0 171.5,641.1 173.8,638.7 175.3,637.5 176.4,636.9 178.7,636.4 181.0,636.9 182.1,637.5 183.6,638.7 185.9,641.1 188.6,645.0 193.1,653.4 204.5,677.4 207.9,683.6 211.3,688.8 214.4,692.7 217.4,695.8 220.4,698.3 223.9,700.3 227.3,701.7 231.4,702.9 236.4,703.6 242.1,704.0 255.7,704.3 311.5,704.3" stroke="#6c6c6c" stroke-width="1" stroke-dasharray="1.4 1.0" fill="none"/>
<path d="M45.9,704.3 81.2,704.3 92.2,704.0 96.7,703.6 100.5,703.0 104.0,702.0 107.0,700.7 109.6,699.0 111.9,697.2 114.6,694.5 116.9,691.7 119.1,688.4 121.8,683.9 130.5,666.9 133.9,661.0 135.8,658.4 137.3,656.8 139.2,655.6 140.8,655.3 142.3,655.6 144.2,656.9 146.1,659.2 148.0,662.3 151.4,669.8 159.0,688.9 161.2,693.7 163.1,697.0 165.0,699.6 166.9,701.5 168.8,702.9 171.1,703.8 173.0,704.1 175.7,704.3 182.1,704.3 185.2,704.0 187.0,703.5 188.6,702.9 190.1,701.8 191.6,700.5 194.3,697.0 197.3,691.4 199.9,685.3 206.4,668.9 209.8,661.6 211.7,658.6 213.2,656.9 215.1,655.6 216.6,655.3 218.2,655.6 220.1,656.8 221.6,658.4 223.5,661.0 226.9,666.9 235.6,683.9 238.3,688.4 240.5,691.7 242.8,694.5 245.5,697.2 247.8,699.0 250.4,700.7 253.4,702.0 256.9,703.0 260.7,703.6 265.2,704.0 276.2,704.3 311.5,704.3" stroke="#3a2cff" stroke-width="1.15" fill="none"/>
<path d="M45.9,704.3 88.8,704.2 96.7,703.7 102.4,702.9 107.4,701.5 111.9,699.3 116.5,696.3 124.1,690.1 126.7,688.2 129.4,686.8 132.0,686.3 133.9,686.5 135.4,687.1 137.0,688.1 138.5,689.4 141.1,692.5 146.8,700.6 149.5,703.3 150.6,704.0 151.8,704.3 152.9,704.1 153.7,703.7 154.8,702.6 155.6,701.5 157.1,698.5 159.0,693.2 160.9,686.2 163.9,672.0 170.4,637.3 173.4,623.9 174.9,619.1 176.0,616.4 176.8,615.1 177.6,614.3 178.7,613.8 179.8,614.3 180.6,615.1 181.4,616.4 182.5,619.1 184.0,623.9 187.0,637.3 193.5,672.0 196.5,686.2 198.4,693.2 200.3,698.5 201.8,701.5 202.6,702.6 203.7,703.7 204.5,704.1 205.6,704.3 206.8,704.0 207.9,703.3 210.6,700.6 216.3,692.5 218.9,689.4 220.4,688.1 222.0,687.1 223.5,686.5 225.4,686.3 228.0,686.8 230.7,688.2 233.3,690.1 240.9,696.3 245.5,699.3 250.0,701.5 255.0,702.9 260.7,703.7 268.6,704.2 311.5,704.3" stroke="#d5343f" stroke-width="1.15" fill="none"/>
<text transform="translate(39.9,708.8) scale(0.94,1)" class="tl" style="font-size:14px" text-anchor="end">0.0</text>
<text transform="translate(39.9,674.8) scale(0.94,1)" class="tl" style="font-size:14px" text-anchor="end">0.5</text>
<text transform="translate(39.9,640.9) scale(0.94,1)" class="tl" style="font-size:14px" text-anchor="end">1.0</text>
<text transform="translate(39.9,606.9) scale(0.94,1)" class="tl" style="font-size:14px" text-anchor="end">1.5</text>
<text transform="translate(39.9,573.0) scale(0.94,1)" class="tl" style="font-size:14px" text-anchor="end">2.0</text>
<text transform="translate(64.9,720.4) scale(0.95,1)" class="tl" style="font-size:14px" text-anchor="middle">-3</text>
<text transform="translate(102.8,720.4) scale(0.95,1)" class="tl" style="font-size:14px" text-anchor="middle">-2</text>
<text transform="translate(140.8,720.4) scale(0.95,1)" class="tl" style="font-size:14px" text-anchor="middle">-1</text>
<text transform="translate(178.7,720.4) scale(0.95,1)" class="tl" style="font-size:14px" text-anchor="middle">0</text>
<text transform="translate(216.6,720.4) scale(0.95,1)" class="tl" style="font-size:14px" text-anchor="middle">1</text>
<text transform="translate(254.6,720.4) scale(0.95,1)" class="tl" style="font-size:14px" text-anchor="middle">2</text>
<text transform="translate(292.5,720.4) scale(0.95,1)" class="tl" style="font-size:14px" text-anchor="middle">3</text>
<path d="M42.1,704.3H45.9M42.1,670.3H45.9M42.1,636.4H45.9M42.1,602.4H45.9M42.1,568.5H45.9M43.9,687.3H45.9M43.9,653.4H45.9M43.9,619.4H45.9M43.9,585.5H45.9M64.9,704.3V708.3M102.8,704.3V708.3M140.8,704.3V708.3M178.7,704.3V708.3M216.6,704.3V708.3M254.6,704.3V708.3M292.5,704.3V708.3M83.8,704.3V706.5M121.8,704.3V706.5M159.7,704.3V706.5M197.7,704.3V706.5M235.6,704.3V706.5M273.6,704.3V706.5" stroke="#333" stroke-width="1" fill="none"/>
<rect x="45.9" y="565.1" width="265.6" height="139.2" stroke="#333" stroke-width="1.1" fill="none"/>
<text x="15.3" y="573.0" class="t" text-anchor="end">(g)</text>
<text transform="translate(14.3,636.2) rotate(-90)" class="t" style="font-size:14.5px" text-anchor="middle">intensity [a.u.]</text>
<text x="178.7" y="738.5" class="t" style="font-size:14.5px" text-anchor="middle">distance <tspan font-style="italic">x/w</tspan></text>
<path d="M372.6,704.3 428.4,704.3 442.1,704.0 447.8,703.6 452.7,702.9 456.9,701.7 460.3,700.3 463.7,698.3 466.7,695.8 469.8,692.7 472.8,688.8 476.2,683.6 479.6,677.4 491.0,653.4 495.6,645.0 498.2,641.1 500.5,638.7 502.0,637.5 503.2,636.9 505.4,636.4 507.7,636.9 508.9,637.5 510.4,638.7 512.7,641.1 515.3,645.0 519.9,653.4 531.3,677.4 534.7,683.6 538.1,688.8 541.1,692.7 544.2,695.8 547.2,698.3 550.6,700.3 554.0,701.7 558.2,702.9 563.1,703.6 568.8,704.0 582.5,704.3 638.3,704.3" stroke="#6c6c6c" stroke-width="1" stroke-dasharray="1.4 1.0" fill="none"/>
<path d="M372.6,704.3 418.9,704.2 427.3,703.8 433.7,702.9 438.6,701.6 443.6,699.6 448.5,696.7 457.2,690.3 460.7,688.0 464.1,686.5 466.0,686.0 467.5,685.9 469.0,686.0 470.9,686.5 472.8,687.4 474.7,688.6 478.1,691.4 485.7,698.5 489.9,701.6 493.7,703.3 497.9,704.1 502.4,704.3 511.9,704.2 515.3,703.8 518.4,702.9 521.0,701.6 524.0,699.5 526.7,697.2 533.2,691.0 536.6,688.3 538.5,687.2 540.0,686.5 541.9,686.0 543.4,685.9 544.9,686.0 546.8,686.5 550.2,688.0 553.7,690.3 562.4,696.7 567.3,699.6 572.3,701.6 577.2,702.9 583.6,703.8 592.0,704.2 638.3,704.3" stroke="#3a2cff" stroke-width="1.15" fill="none"/>
<path d="M372.6,704.3 411.7,704.3 424.6,704.1 433.3,703.6 447.0,702.1 451.9,701.8 456.9,702.2 464.8,704.0 467.9,704.3 469.4,704.1 470.5,703.7 472.0,702.8 473.2,701.8 475.5,698.8 477.7,694.1 480.0,687.5 481.9,680.4 484.2,670.1 486.5,658.0 494.8,605.7 498.2,586.9 500.1,578.8 502.0,572.8 503.2,570.4 503.9,569.4 504.7,568.7 505.4,568.5 506.2,568.7 507.0,569.4 507.7,570.4 508.9,572.8 510.8,578.8 512.7,586.9 516.1,605.7 524.4,658.0 526.7,670.1 529.0,680.4 530.9,687.5 533.2,694.1 535.4,698.8 537.7,701.8 538.9,702.8 540.4,703.7 541.5,704.1 543.0,704.3 546.1,704.0 554.0,702.2 559.0,701.8 563.9,702.1 577.6,703.6 586.3,704.1 599.2,704.3 638.3,704.3" stroke="#d5343f" stroke-width="1.15" fill="none"/>
<text transform="translate(366.6,708.8) scale(0.94,1)" class="tl" style="font-size:14px" text-anchor="end">0.0</text>
<text transform="translate(366.6,674.8) scale(0.94,1)" class="tl" style="font-size:14px" text-anchor="end">0.5</text>
<text transform="translate(366.6,640.9) scale(0.94,1)" class="tl" style="font-size:14px" text-anchor="end">1.0</text>
<text transform="translate(366.6,606.9) scale(0.94,1)" class="tl" style="font-size:14px" text-anchor="end">1.5</text>
<text transform="translate(366.6,573.0) scale(0.94,1)" class="tl" style="font-size:14px" text-anchor="end">2.0</text>
<text transform="translate(391.6,720.4) scale(0.95,1)" class="tl" style="font-size:14px" text-anchor="middle">-3</text>
<text transform="translate(429.5,720.4) scale(0.95,1)" class="tl" style="font-size:14px" text-anchor="middle">-2</text>
<text transform="translate(467.5,720.4) scale(0.95,1)" class="tl" style="font-size:14px" text-anchor="middle">-1</text>
<text transform="translate(505.4,720.4) scale(0.95,1)" class="tl" style="font-size:14px" text-anchor="middle">0</text>
<text transform="translate(543.4,720.4) scale(0.95,1)" class="tl" style="font-size:14px" text-anchor="middle">1</text>
<text transform="translate(581.4,720.4) scale(0.95,1)" class="tl" style="font-size:14px" text-anchor="middle">2</text>
<text transform="translate(619.3,720.4) scale(0.95,1)" class="tl" style="font-size:14px" text-anchor="middle">3</text>
<path d="M368.8,704.3H372.6M368.8,670.3H372.6M368.8,636.4H372.6M368.8,602.4H372.6M368.8,568.5H372.6M370.6,687.3H372.6M370.6,653.4H372.6M370.6,619.4H372.6M370.6,585.5H372.6M391.6,704.3V708.3M429.5,704.3V708.3M467.5,704.3V708.3M505.4,704.3V708.3M543.4,704.3V708.3M581.4,704.3V708.3M619.3,704.3V708.3M410.6,704.3V706.5M448.5,704.3V706.5M486.5,704.3V706.5M524.4,704.3V706.5M562.4,704.3V706.5M600.3,704.3V706.5" stroke="#333" stroke-width="1" fill="none"/>
<rect x="372.6" y="565.1" width="265.7" height="139.2" stroke="#333" stroke-width="1.1" fill="none"/>
<text x="342.6" y="573.0" class="t" text-anchor="end">(h)</text>
<text transform="translate(341.4,636.2) rotate(-90)" class="t" style="font-size:14.5px" text-anchor="middle">intensity [a.u.]</text>
<text x="505.4" y="738.5" class="t" style="font-size:14.5px" text-anchor="middle">radius <tspan font-style="italic">r/w</tspan></text>
<path d="M56.3,19.55H102" stroke="#5f52ff" stroke-width="1.3"/>
<path d="M106.2,23.2L107.4,22.4" stroke="#111" stroke-width="0.7" fill="none"/>
<path d="M107.3,22.4L109.6,27.0" stroke="#111" stroke-width="1.2" fill="none"/>
<path d="M109.6,27.0L112.5,13.1H132.5" stroke="#222" stroke-width="0.75" fill="none"/>
<text x="113.3" y="24.2" class="ln" textLength="5.1" lengthAdjust="spacingAndGlyphs">3</text>
<path d="M121.8,14.4L118.4,26.9" stroke="#111" stroke-width="0.8"/>
<text x="121.8" y="24.2" class="ln" textLength="10.2" lengthAdjust="spacingAndGlyphs">11</text>
<text x="134.7" y="24.2" class="li" textLength="15.4" lengthAdjust="spacingAndGlyphs">GH</text>
<text x="151.5" y="27.4" class="lsb" textLength="9.3" lengthAdjust="spacingAndGlyphs">0,0</text>
<path d="M163.8,21.4H170.0" stroke="#111" stroke-width="0.85"/>
<path d="M171.3,23.2L172.5,22.4" stroke="#111" stroke-width="0.7" fill="none"/>
<path d="M172.4,22.4L174.7,27.0" stroke="#111" stroke-width="1.2" fill="none"/>
<path d="M174.7,27.0L177.6,13.1H198.2" stroke="#222" stroke-width="0.75" fill="none"/>
<text x="178.5" y="24.2" class="ln" textLength="5.4" lengthAdjust="spacingAndGlyphs">8</text>
<path d="M187.3,14.4L183.9,26.9" stroke="#111" stroke-width="0.8"/>
<text x="187.3" y="24.2" class="ln" textLength="10.7" lengthAdjust="spacingAndGlyphs">11</text>
<text x="199.7" y="24.2" class="li" textLength="17.0" lengthAdjust="spacingAndGlyphs">GH</text>
<text x="217.8" y="27.4" class="lsb" textLength="8.1" lengthAdjust="spacingAndGlyphs">4,0</text>
<path d="M56.3,44.4H102" stroke="#de6670" stroke-width="1.3"/>
<path d="M106.2,48.5L107.4,47.7" stroke="#111" stroke-width="0.7" fill="none"/>
<path d="M107.3,47.7L109.6,52.3" stroke="#111" stroke-width="1.2" fill="none"/>
<path d="M109.6,52.3L112.5,38.4H132.5" stroke="#222" stroke-width="0.75" fill="none"/>
<text x="113.3" y="49.5" class="ln" textLength="5.1" lengthAdjust="spacingAndGlyphs">3</text>
<path d="M121.8,39.7L118.4,52.2" stroke="#111" stroke-width="0.8"/>
<text x="121.8" y="49.5" class="ln" textLength="10.2" lengthAdjust="spacingAndGlyphs">11</text>
<text x="134.7" y="49.5" class="li" textLength="15.4" lengthAdjust="spacingAndGlyphs">GH</text>
<text x="151.5" y="52.7" class="lsb" textLength="9.3" lengthAdjust="spacingAndGlyphs">0,0</text>
<path d="M163.8,46.7H170.0M166.9,43.6V49.8" stroke="#111" stroke-width="0.85"/>
<path d="M171.3,48.5L172.5,47.7" stroke="#111" stroke-width="0.7" fill="none"/>
<path d="M172.4,47.7L174.7,52.3" stroke="#111" stroke-width="1.2" fill="none"/>
<path d="M174.7,52.3L177.6,38.4H198.2" stroke="#222" stroke-width="0.75" fill="none"/>
<text x="178.5" y="49.5" class="ln" textLength="5.4" lengthAdjust="spacingAndGlyphs">8</text>
<path d="M187.3,39.7L183.9,52.2" stroke="#111" stroke-width="0.8"/>
<text x="187.3" y="49.5" class="ln" textLength="10.7" lengthAdjust="spacingAndGlyphs">11</text>
<text x="199.7" y="49.5" class="li" textLength="17.0" lengthAdjust="spacingAndGlyphs">GH</text>
<text x="217.8" y="52.7" class="lsb" textLength="8.1" lengthAdjust="spacingAndGlyphs">4,0</text>
<path d="M56,206H101.5" stroke="#5f52ff" stroke-width="1.3"/>
<path d="M106.3,209.5L107.5,208.7" stroke="#111" stroke-width="0.7" fill="none"/>
<path d="M107.4,208.7L109.7,213.3" stroke="#111" stroke-width="1.2" fill="none"/>
<path d="M109.7,213.3L112.0,199.4H134.4" stroke="#222" stroke-width="0.75" fill="none"/>
<text x="113.0" y="210.5" class="ln" textLength="5.9" lengthAdjust="spacingAndGlyphs">5</text>
<path d="M122.3,200.7L118.9,213.2" stroke="#111" stroke-width="0.8"/>
<text x="122.3" y="210.5" class="ln" textLength="11.7" lengthAdjust="spacingAndGlyphs">21</text>
<text x="136.0" y="210.5" class="li" textLength="16.3" lengthAdjust="spacingAndGlyphs">GH</text>
<text x="152.8" y="213.7" class="lsb" textLength="9.6" lengthAdjust="spacingAndGlyphs">0,0</text>
<path d="M165.7,207.7H172.0M168.8,204.5V210.8" stroke="#111" stroke-width="0.85"/>
<path d="M174.0,209.5L175.2,208.7" stroke="#111" stroke-width="0.7" fill="none"/>
<path d="M175.1,208.7L177.4,213.3" stroke="#111" stroke-width="1.2" fill="none"/>
<path d="M177.4,213.3L179.4,199.4H206.9" stroke="#222" stroke-width="0.75" fill="none"/>
<text x="180.0" y="210.5" class="ln" textLength="11.6" lengthAdjust="spacingAndGlyphs">16</text>
<path d="M195.0,200.7L191.6,213.2" stroke="#111" stroke-width="0.8"/>
<text x="195.0" y="210.5" class="ln" textLength="11.5" lengthAdjust="spacingAndGlyphs">21</text>
<text x="208.5" y="210.5" class="li" textLength="16.9" lengthAdjust="spacingAndGlyphs">GH</text>
<text x="225.9" y="213.7" class="lsb" textLength="9.4" lengthAdjust="spacingAndGlyphs">6,0</text>
<path d="M56,230.9H101.5" stroke="#de6670" stroke-width="1.3"/>
<path d="M106.3,233.5L107.5,232.7" stroke="#111" stroke-width="0.7" fill="none"/>
<path d="M107.4,232.7L109.7,237.3" stroke="#111" stroke-width="1.2" fill="none"/>
<path d="M109.7,237.3L112.0,223.4H134.4" stroke="#222" stroke-width="0.75" fill="none"/>
<text x="113.0" y="234.5" class="ln" textLength="5.9" lengthAdjust="spacingAndGlyphs">5</text>
<path d="M122.3,224.7L118.9,237.2" stroke="#111" stroke-width="0.8"/>
<text x="122.3" y="234.5" class="ln" textLength="11.7" lengthAdjust="spacingAndGlyphs">21</text>
<text x="136.0" y="234.5" class="li" textLength="16.3" lengthAdjust="spacingAndGlyphs">GH</text>
<text x="152.8" y="237.7" class="lsb" textLength="9.6" lengthAdjust="spacingAndGlyphs">0,0</text>
<path d="M165.7,231.7H172.0" stroke="#111" stroke-width="0.85"/>
<path d="M174.0,233.5L175.2,232.7" stroke="#111" stroke-width="0.7" fill="none"/>
<path d="M175.1,232.7L177.4,237.3" stroke="#111" stroke-width="1.2" fill="none"/>
<path d="M177.4,237.3L179.4,223.4H206.9" stroke="#222" stroke-width="0.75" fill="none"/>
<text x="180.0" y="234.5" class="ln" textLength="11.6" lengthAdjust="spacingAndGlyphs">16</text>
<path d="M195.0,224.7L191.6,237.2" stroke="#111" stroke-width="0.8"/>
<text x="195.0" y="234.5" class="ln" textLength="11.5" lengthAdjust="spacingAndGlyphs">21</text>
<text x="208.5" y="234.5" class="li" textLength="16.9" lengthAdjust="spacingAndGlyphs">GH</text>
<text x="225.9" y="237.7" class="lsb" textLength="9.4" lengthAdjust="spacingAndGlyphs">6,0</text>
<path d="M56.9,392.5H102.5" stroke="#5f52ff" stroke-width="1.3"/>
<path d="M106.0,396.1L107.2,395.3" stroke="#111" stroke-width="0.7" fill="none"/>
<path d="M107.1,395.3L109.4,399.9" stroke="#111" stroke-width="1.2" fill="none"/>
<path d="M109.4,399.9L111.5,386.0H139.0" stroke="#222" stroke-width="0.75" fill="none"/>
<text x="112.3" y="397.1" class="ln" textLength="11.5" lengthAdjust="spacingAndGlyphs">15</text>
<path d="M127.2,387.3L123.8,399.8" stroke="#111" stroke-width="0.8"/>
<text x="127.2" y="397.1" class="ln" textLength="11.4" lengthAdjust="spacingAndGlyphs">23</text>
<text x="141.0" y="397.1" class="li" textLength="17.0" lengthAdjust="spacingAndGlyphs">GH</text>
<text x="158.4" y="400.3" class="lsb" textLength="7.5" lengthAdjust="spacingAndGlyphs">1,0</text>
<path d="M168.6,394.3H174.5" stroke="#111" stroke-width="0.85"/>
<path d="M177.5,396.1L178.7,395.3" stroke="#111" stroke-width="0.7" fill="none"/>
<path d="M178.6,395.3L180.9,399.9" stroke="#111" stroke-width="1.2" fill="none"/>
<path d="M180.9,399.9L183.0,386.0H206.0" stroke="#222" stroke-width="0.75" fill="none"/>
<text x="183.8" y="397.1" class="ln" textLength="6.1" lengthAdjust="spacingAndGlyphs">8</text>
<path d="M193.3,387.3L189.9,399.8" stroke="#111" stroke-width="0.8"/>
<text x="193.3" y="397.1" class="ln" textLength="12.3" lengthAdjust="spacingAndGlyphs">23</text>
<text x="207.2" y="397.1" class="li" textLength="17.6" lengthAdjust="spacingAndGlyphs">GH</text>
<text x="225.2" y="400.3" class="lsb" textLength="8.8" lengthAdjust="spacingAndGlyphs">5,0</text>
<path d="M56.9,417.5H102.5" stroke="#de6670" stroke-width="1.3"/>
<path d="M106.0,420.5L107.2,419.7" stroke="#111" stroke-width="0.7" fill="none"/>
<path d="M107.1,419.7L109.4,424.3" stroke="#111" stroke-width="1.2" fill="none"/>
<path d="M109.4,424.3L111.5,410.4H139.0" stroke="#222" stroke-width="0.75" fill="none"/>
<text x="112.3" y="421.5" class="ln" textLength="11.5" lengthAdjust="spacingAndGlyphs">15</text>
<path d="M127.2,411.7L123.8,424.2" stroke="#111" stroke-width="0.8"/>
<text x="127.2" y="421.5" class="ln" textLength="11.4" lengthAdjust="spacingAndGlyphs">23</text>
<text x="141.0" y="421.5" class="li" textLength="17.0" lengthAdjust="spacingAndGlyphs">GH</text>
<text x="158.4" y="424.7" class="lsb" textLength="7.5" lengthAdjust="spacingAndGlyphs">1,0</text>
<path d="M168.6,418.7H174.5M171.6,415.7V421.7" stroke="#111" stroke-width="0.85"/>
<path d="M177.5,420.5L178.7,419.7" stroke="#111" stroke-width="0.7" fill="none"/>
<path d="M178.6,419.7L180.9,424.3" stroke="#111" stroke-width="1.2" fill="none"/>
<path d="M180.9,424.3L183.0,410.4H206.0" stroke="#222" stroke-width="0.75" fill="none"/>
<text x="183.8" y="421.5" class="ln" textLength="6.1" lengthAdjust="spacingAndGlyphs">8</text>
<path d="M193.3,411.7L189.9,424.2" stroke="#111" stroke-width="0.8"/>
<text x="193.3" y="421.5" class="ln" textLength="12.3" lengthAdjust="spacingAndGlyphs">23</text>
<text x="207.2" y="421.5" class="li" textLength="17.6" lengthAdjust="spacingAndGlyphs">GH</text>
<text x="225.2" y="424.7" class="lsb" textLength="8.8" lengthAdjust="spacingAndGlyphs">5,0</text>
<path d="M56,578.25H96.9" stroke="#5f52ff" stroke-width="1.3"/>
<path d="M101.9,581.6L103.1,580.8" stroke="#111" stroke-width="0.7" fill="none"/>
<path d="M103.0,580.8L105.3,585.4" stroke="#111" stroke-width="1.2" fill="none"/>
<path d="M105.3,585.4L107.4,571.5H122.5" stroke="#222" stroke-width="0.75" fill="none"/>
<text x="108.0" y="582.6" class="ln" textLength="5.4" lengthAdjust="spacingAndGlyphs">1</text>
<path d="M116.8,572.8L113.4,585.3" stroke="#111" stroke-width="0.8"/>
<text x="116.8" y="582.6" class="ln" textLength="5.4" lengthAdjust="spacingAndGlyphs">3</text>
<text x="124.1" y="582.6" class="li" textLength="17.6" lengthAdjust="spacingAndGlyphs">GH</text>
<text x="142.2" y="585.8" class="lsb" textLength="8.7" lengthAdjust="spacingAndGlyphs">0,0</text>
<path d="M153.8,579.8H160.0M156.9,576.7V582.9" stroke="#111" stroke-width="0.85"/>
<path d="M162.5,581.6L163.7,580.8" stroke="#111" stroke-width="0.7" fill="none"/>
<path d="M163.6,580.8L165.9,585.4" stroke="#111" stroke-width="1.2" fill="none"/>
<path d="M165.9,585.4L168.0,571.5H185.7" stroke="#222" stroke-width="0.75" fill="none"/>
<text x="168.6" y="582.6" class="ln" textLength="6.7" lengthAdjust="spacingAndGlyphs">2</text>
<path d="M178.7,572.8L175.3,585.3" stroke="#111" stroke-width="0.8"/>
<text x="178.7" y="582.6" class="ln" textLength="6.7" lengthAdjust="spacingAndGlyphs">3</text>
<text x="187.2" y="582.6" class="li" textLength="17.0" lengthAdjust="spacingAndGlyphs">GH</text>
<text x="204.6" y="585.8" class="lsb" textLength="9.4" lengthAdjust="spacingAndGlyphs">2,0</text>
<path d="M56,600.6H96.9" stroke="#de6670" stroke-width="1.3"/>
<path d="M101.9,602.7L103.1,601.9" stroke="#111" stroke-width="0.7" fill="none"/>
<path d="M103.0,601.9L105.3,606.5" stroke="#111" stroke-width="1.2" fill="none"/>
<path d="M105.3,606.5L107.4,592.6H122.5" stroke="#222" stroke-width="0.75" fill="none"/>
<text x="108.0" y="603.7" class="ln" textLength="5.4" lengthAdjust="spacingAndGlyphs">1</text>
<path d="M116.8,593.9L113.4,606.4" stroke="#111" stroke-width="0.8"/>
<text x="116.8" y="603.7" class="ln" textLength="5.4" lengthAdjust="spacingAndGlyphs">3</text>
<text x="124.1" y="603.7" class="li" textLength="17.6" lengthAdjust="spacingAndGlyphs">GH</text>
<text x="142.2" y="606.9" class="lsb" textLength="8.7" lengthAdjust="spacingAndGlyphs">0,0</text>
<path d="M153.8,600.9H160.0" stroke="#111" stroke-width="0.85"/>
<path d="M162.5,602.7L163.7,601.9" stroke="#111" stroke-width="0.7" fill="none"/>
<path d="M163.6,601.9L165.9,606.5" stroke="#111" stroke-width="1.2" fill="none"/>
<path d="M165.9,606.5L168.0,592.6H185.7" stroke="#222" stroke-width="0.75" fill="none"/>
<text x="168.6" y="603.7" class="ln" textLength="6.7" lengthAdjust="spacingAndGlyphs">2</text>
<path d="M178.7,593.9L175.3,606.4" stroke="#111" stroke-width="0.8"/>
<text x="178.7" y="603.7" class="ln" textLength="6.7" lengthAdjust="spacingAndGlyphs">3</text>
<text x="187.2" y="603.7" class="li" textLength="17.0" lengthAdjust="spacingAndGlyphs">GH</text>
<text x="204.6" y="606.9" class="lsb" textLength="9.4" lengthAdjust="spacingAndGlyphs">2,0</text>
<path d="M383,13.75H437.8" stroke="#5f52ff" stroke-width="1.3"/>
<path d="M383.0,27.2L384.2,26.4" stroke="#111" stroke-width="0.7" fill="none"/>
<path d="M384.1,26.4L386.4,31.0" stroke="#111" stroke-width="1.2" fill="none"/>
<path d="M386.4,31.0L388.6,17.1H403.9" stroke="#222" stroke-width="0.75" fill="none"/>
<text x="389.5" y="28.2" class="ln" textLength="5.3" lengthAdjust="spacingAndGlyphs">1</text>
<path d="M398.2,18.4L394.8,30.9" stroke="#111" stroke-width="0.8"/>
<text x="398.2" y="28.2" class="ln" textLength="5.3" lengthAdjust="spacingAndGlyphs">2</text>
<text x="406.7" y="28.2" class="li" textLength="14.3" lengthAdjust="spacingAndGlyphs">GL</text>
<text x="420.5" y="23.6" class="ls">0</text>
<text x="420.5" y="31.0" class="ls">0</text>
<path d="M427.0,25.4H433.0" stroke="#111" stroke-width="0.85"/>
<path d="M433.4,27.2L434.6,26.4" stroke="#111" stroke-width="0.7" fill="none"/>
<path d="M434.5,26.4L436.8,31.0" stroke="#111" stroke-width="1.2" fill="none"/>
<path d="M436.8,31.0L439.0,17.1H456.4" stroke="#222" stroke-width="0.75" fill="none"/>
<text x="439.8" y="28.2" class="ln" textLength="6.4" lengthAdjust="spacingAndGlyphs">1</text>
<path d="M449.6,18.4L446.2,30.9" stroke="#111" stroke-width="0.8"/>
<text x="449.6" y="28.2" class="ln" textLength="6.4" lengthAdjust="spacingAndGlyphs">2</text>
<text x="458.3" y="28.2" class="li" textLength="13.7" lengthAdjust="spacingAndGlyphs">GL</text>
<text x="471.5" y="23.6" class="ls">0</text>
<text x="471.5" y="31.0" class="ls">2</text>
<path d="M383,43.75H437.8" stroke="#de6670" stroke-width="1.3"/>
<path d="M383.0,57.2L384.2,56.4" stroke="#111" stroke-width="0.7" fill="none"/>
<path d="M384.1,56.4L386.4,61.0" stroke="#111" stroke-width="1.2" fill="none"/>
<path d="M386.4,61.0L388.6,47.1H403.9" stroke="#222" stroke-width="0.75" fill="none"/>
<text x="389.5" y="58.2" class="ln" textLength="5.3" lengthAdjust="spacingAndGlyphs">1</text>
<path d="M398.2,48.4L394.8,60.9" stroke="#111" stroke-width="0.8"/>
<text x="398.2" y="58.2" class="ln" textLength="5.3" lengthAdjust="spacingAndGlyphs">2</text>
<text x="406.7" y="58.2" class="li" textLength="14.3" lengthAdjust="spacingAndGlyphs">GL</text>
<text x="420.5" y="53.6" class="ls">0</text>
<text x="420.5" y="61.0" class="ls">0</text>
<path d="M427.0,55.4H433.0M430.0,52.4V58.4" stroke="#111" stroke-width="0.85"/>
<path d="M433.4,57.2L434.6,56.4" stroke="#111" stroke-width="0.7" fill="none"/>
<path d="M434.5,56.4L436.8,61.0" stroke="#111" stroke-width="1.2" fill="none"/>
<path d="M436.8,61.0L439.0,47.1H456.4" stroke="#222" stroke-width="0.75" fill="none"/>
<text x="439.8" y="58.2" class="ln" textLength="6.4" lengthAdjust="spacingAndGlyphs">1</text>
<path d="M449.6,48.4L446.2,60.9" stroke="#111" stroke-width="0.8"/>
<text x="449.6" y="58.2" class="ln" textLength="6.4" lengthAdjust="spacingAndGlyphs">2</text>
<text x="458.3" y="58.2" class="li" textLength="13.7" lengthAdjust="spacingAndGlyphs">GL</text>
<text x="471.5" y="53.6" class="ls">0</text>
<text x="471.5" y="61.0" class="ls">2</text>
<path d="M382.7,200.4H437.8" stroke="#5f52ff" stroke-width="1.3"/>
<path d="M382.7,212.6L383.9,211.8" stroke="#111" stroke-width="0.7" fill="none"/>
<path d="M383.8,211.8L386.1,216.4" stroke="#111" stroke-width="1.2" fill="none"/>
<path d="M386.1,216.4L388.2,202.5H404.3" stroke="#222" stroke-width="0.75" fill="none"/>
<text x="389.0" y="213.6" class="ln" textLength="5.8" lengthAdjust="spacingAndGlyphs">1</text>
<path d="M398.2,203.8L394.8,216.3" stroke="#111" stroke-width="0.8"/>
<text x="398.2" y="213.6" class="ln" textLength="5.8" lengthAdjust="spacingAndGlyphs">2</text>
<text x="405.7" y="213.6" class="li" textLength="14.2" lengthAdjust="spacingAndGlyphs">GL</text>
<text x="419.2" y="209.0" class="ls">0</text>
<text x="419.2" y="216.4" class="ls">0</text>
<path d="M426.6,210.8H432.7" stroke="#111" stroke-width="0.85"/>
<path d="M434.4,212.6L435.6,211.8" stroke="#111" stroke-width="0.7" fill="none"/>
<path d="M435.5,211.8L437.8,216.4" stroke="#111" stroke-width="1.2" fill="none"/>
<path d="M437.8,216.4L440.0,202.5H455.9" stroke="#222" stroke-width="0.75" fill="none"/>
<text x="440.7" y="213.6" class="ln" textLength="5.8" lengthAdjust="spacingAndGlyphs">1</text>
<path d="M449.8,203.8L446.4,216.3" stroke="#111" stroke-width="0.8"/>
<text x="449.8" y="213.6" class="ln" textLength="5.8" lengthAdjust="spacingAndGlyphs">2</text>
<text x="458.2" y="213.6" class="li" textLength="13.8" lengthAdjust="spacingAndGlyphs">GL</text>
<text x="471.2" y="209.0" class="ls">0</text>
<text x="471.2" y="216.4" class="ls">3</text>
<path d="M382.7,230.3H437.8" stroke="#de6670" stroke-width="1.3"/>
<path d="M382.7,243.5L383.9,242.7" stroke="#111" stroke-width="0.7" fill="none"/>
<path d="M383.8,242.7L386.1,247.3" stroke="#111" stroke-width="1.2" fill="none"/>
<path d="M386.1,247.3L388.2,233.4H404.3" stroke="#222" stroke-width="0.75" fill="none"/>
<text x="389.0" y="244.5" class="ln" textLength="5.8" lengthAdjust="spacingAndGlyphs">1</text>
<path d="M398.2,234.7L394.8,247.2" stroke="#111" stroke-width="0.8"/>
<text x="398.2" y="244.5" class="ln" textLength="5.8" lengthAdjust="spacingAndGlyphs">2</text>
<text x="405.7" y="244.5" class="li" textLength="14.2" lengthAdjust="spacingAndGlyphs">GL</text>
<text x="419.2" y="239.9" class="ls">0</text>
<text x="419.2" y="247.3" class="ls">0</text>
<path d="M426.6,241.7H432.7M429.6,238.7V244.7" stroke="#111" stroke-width="0.85"/>
<path d="M434.4,243.5L435.6,242.7" stroke="#111" stroke-width="0.7" fill="none"/>
<path d="M435.5,242.7L437.8,247.3" stroke="#111" stroke-width="1.2" fill="none"/>
<path d="M437.8,247.3L440.0,233.4H455.9" stroke="#222" stroke-width="0.75" fill="none"/>
<text x="440.7" y="244.5" class="ln" textLength="5.8" lengthAdjust="spacingAndGlyphs">1</text>
<path d="M449.8,234.7L446.4,247.2" stroke="#111" stroke-width="0.8"/>
<text x="449.8" y="244.5" class="ln" textLength="5.8" lengthAdjust="spacingAndGlyphs">2</text>
<text x="458.2" y="244.5" class="li" textLength="13.8" lengthAdjust="spacingAndGlyphs">GL</text>
<text x="471.2" y="239.9" class="ls">0</text>
<text x="471.2" y="247.3" class="ls">3</text>
<path d="M383.1,577.3H438.7" stroke="#5f52ff" stroke-width="1.3"/>
<path d="M381.9,590.1L383.1,589.3" stroke="#111" stroke-width="0.7" fill="none"/>
<path d="M383.0,589.3L385.3,593.9" stroke="#111" stroke-width="1.2" fill="none"/>
<path d="M385.3,593.9L387.4,580.0H403.4" stroke="#222" stroke-width="0.75" fill="none"/>
<text x="388.2" y="591.1" class="ln" textLength="5.8" lengthAdjust="spacingAndGlyphs">1</text>
<path d="M397.3,581.3L393.9,593.8" stroke="#111" stroke-width="0.8"/>
<text x="397.3" y="591.1" class="ln" textLength="5.8" lengthAdjust="spacingAndGlyphs">2</text>
<text x="405.7" y="591.1" class="li" textLength="13.8" lengthAdjust="spacingAndGlyphs">GL</text>
<text x="418.9" y="586.5" class="ls">0</text>
<text x="418.9" y="593.9" class="ls">0</text>
<path d="M426.6,588.3H432.0" stroke="#111" stroke-width="0.85"/>
<path d="M433.5,590.1L434.7,589.3" stroke="#111" stroke-width="0.7" fill="none"/>
<path d="M434.6,589.3L436.9,593.9" stroke="#111" stroke-width="1.2" fill="none"/>
<path d="M436.9,593.9L439.0,580.0H455.9" stroke="#222" stroke-width="0.75" fill="none"/>
<text x="439.8" y="591.1" class="ln" textLength="6.2" lengthAdjust="spacingAndGlyphs">1</text>
<path d="M449.4,581.3L446.0,593.8" stroke="#111" stroke-width="0.8"/>
<text x="449.4" y="591.1" class="ln" textLength="6.2" lengthAdjust="spacingAndGlyphs">2</text>
<text x="457.3" y="591.1" class="li" textLength="13.7" lengthAdjust="spacingAndGlyphs">GL</text>
<text x="470.5" y="586.5" class="ls">0</text>
<text x="470.5" y="593.9" class="ls">1</text>
<path d="M383.1,607.3H438.7" stroke="#de6670" stroke-width="1.3"/>
<path d="M381.9,620.1L383.1,619.3" stroke="#111" stroke-width="0.7" fill="none"/>
<path d="M383.0,619.3L385.3,623.9" stroke="#111" stroke-width="1.2" fill="none"/>
<path d="M385.3,623.9L387.4,610.0H403.4" stroke="#222" stroke-width="0.75" fill="none"/>
<text x="388.2" y="621.1" class="ln" textLength="5.8" lengthAdjust="spacingAndGlyphs">1</text>
<path d="M397.3,611.3L393.9,623.8" stroke="#111" stroke-width="0.8"/>
<text x="397.3" y="621.1" class="ln" textLength="5.8" lengthAdjust="spacingAndGlyphs">2</text>
<text x="405.7" y="621.1" class="li" textLength="13.8" lengthAdjust="spacingAndGlyphs">GL</text>
<text x="418.9" y="616.5" class="ls">0</text>
<text x="418.9" y="623.9" class="ls">0</text>
<path d="M426.6,618.3H432.0M429.3,615.3V621.3" stroke="#111" stroke-width="0.85"/>
<path d="M433.5,620.1L434.7,619.3" stroke="#111" stroke-width="0.7" fill="none"/>
<path d="M434.6,619.3L436.9,623.9" stroke="#111" stroke-width="1.2" fill="none"/>
<path d="M436.9,623.9L439.0,610.0H455.9" stroke="#222" stroke-width="0.75" fill="none"/>
<text x="439.8" y="621.1" class="ln" textLength="6.2" lengthAdjust="spacingAndGlyphs">1</text>
<path d="M449.4,611.3L446.0,623.8" stroke="#111" stroke-width="0.8"/>
<text x="449.4" y="621.1" class="ln" textLength="6.2" lengthAdjust="spacingAndGlyphs">2</text>
<text x="457.3" y="621.1" class="li" textLength="13.7" lengthAdjust="spacingAndGlyphs">GL</text>
<text x="470.5" y="616.5" class="ls">0</text>
<text x="470.5" y="623.9" class="ls">1</text>
<path d="M381.5,392.4H424.6" stroke="#5f52ff" stroke-width="1.3"/>
<path d="M431.2,395.8L432.4,395.0" stroke="#111" stroke-width="0.7" fill="none"/>
<path d="M432.3,395.0L434.6,399.6" stroke="#111" stroke-width="1.2" fill="none"/>
<path d="M434.6,399.6L437.0,385.7H454.8" stroke="#222" stroke-width="0.75" fill="none"/>
<text x="439.0" y="396.8" class="ln" textLength="6.1" lengthAdjust="spacingAndGlyphs">6</text>
<path d="M448.5,387.0L445.1,399.5" stroke="#111" stroke-width="0.8"/>
<text x="448.5" y="396.8" class="ln" textLength="6.1" lengthAdjust="spacingAndGlyphs">7</text>
<text x="456.7" y="396.8" class="li" textLength="14.5" lengthAdjust="spacingAndGlyphs">GL</text>
<text x="470.4" y="392.2" class="ls">2</text>
<text x="470.4" y="399.6" class="ls">0</text>
<path d="M476.8,394.0H481.7" stroke="#111" stroke-width="0.85"/>
<path d="M485.0,395.8L486.2,395.0" stroke="#111" stroke-width="0.7" fill="none"/>
<path d="M486.1,395.0L488.4,399.6" stroke="#111" stroke-width="1.2" fill="none"/>
<path d="M488.4,399.6L490.5,385.7H507.2" stroke="#222" stroke-width="0.75" fill="none"/>
<text x="491.3" y="396.8" class="ln" textLength="6.1" lengthAdjust="spacingAndGlyphs">1</text>
<path d="M500.8,387.0L497.4,399.5" stroke="#111" stroke-width="0.8"/>
<text x="500.8" y="396.8" class="ln" textLength="6.2" lengthAdjust="spacingAndGlyphs">7</text>
<text x="509.3" y="396.8" class="li" textLength="14.5" lengthAdjust="spacingAndGlyphs">GL</text>
<text x="523.0" y="392.2" class="ls">2</text>
<text x="523.0" y="399.6" class="ls">2</text>
<path d="M381.5,416.1H424.6" stroke="#de6670" stroke-width="1.3"/>
<path d="M431.2,420.1L432.4,419.3" stroke="#111" stroke-width="0.7" fill="none"/>
<path d="M432.3,419.3L434.6,423.9" stroke="#111" stroke-width="1.2" fill="none"/>
<path d="M434.6,423.9L437.0,410.0H454.8" stroke="#222" stroke-width="0.75" fill="none"/>
<text x="439.0" y="421.1" class="ln" textLength="6.1" lengthAdjust="spacingAndGlyphs">6</text>
<path d="M448.5,411.3L445.1,423.8" stroke="#111" stroke-width="0.8"/>
<text x="448.5" y="421.1" class="ln" textLength="6.1" lengthAdjust="spacingAndGlyphs">7</text>
<text x="456.7" y="421.1" class="li" textLength="14.5" lengthAdjust="spacingAndGlyphs">GL</text>
<text x="470.4" y="416.5" class="ls">2</text>
<text x="470.4" y="423.9" class="ls">0</text>
<path d="M476.8,418.3H481.7M479.2,415.3V421.3" stroke="#111" stroke-width="0.85"/>
<path d="M485.0,420.1L486.2,419.3" stroke="#111" stroke-width="0.7" fill="none"/>
<path d="M486.1,419.3L488.4,423.9" stroke="#111" stroke-width="1.2" fill="none"/>
<path d="M488.4,423.9L490.5,410.0H507.2" stroke="#222" stroke-width="0.75" fill="none"/>
<text x="491.3" y="421.1" class="ln" textLength="6.1" lengthAdjust="spacingAndGlyphs">1</text>
<path d="M500.8,411.3L497.4,423.8" stroke="#111" stroke-width="0.8"/>
<text x="500.8" y="421.1" class="ln" textLength="6.2" lengthAdjust="spacingAndGlyphs">7</text>
<text x="509.3" y="421.1" class="li" textLength="14.5" lengthAdjust="spacingAndGlyphs">GL</text>
<text x="523.0" y="416.5" class="ls">2</text>
<text x="523.0" y="423.9" class="ls">2</text>
</svg></body></html>
